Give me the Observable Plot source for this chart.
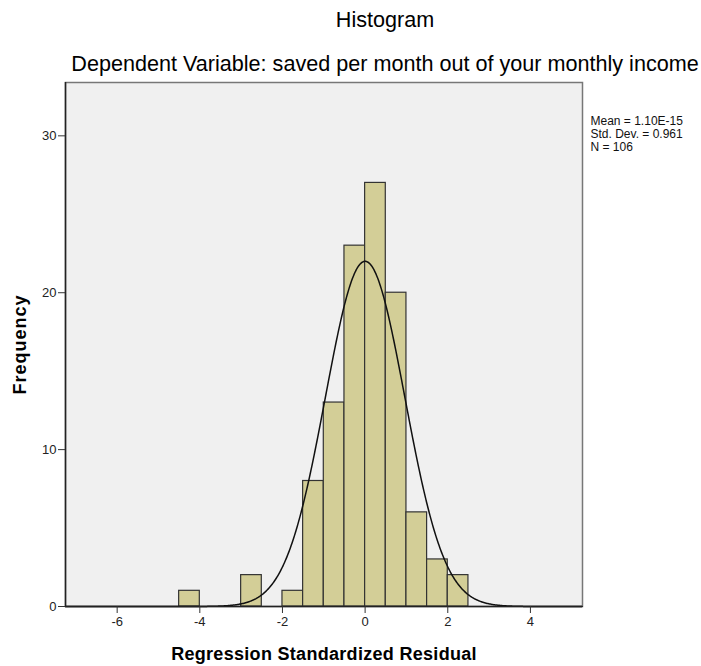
<!DOCTYPE html>
<html>
<head>
<meta charset="utf-8">
<script src="https://cdn.jsdelivr.net/npm/d3@7"></script>
<script src="https://cdn.jsdelivr.net/npm/@observablehq/plot@0.6"></script>
<style>
  html, body { margin: 0; padding: 0; background: #fff; }
  #chart { width: 701px; height: 666px; overflow: hidden; }
  svg { font-family: "Liberation Sans", Arial, sans-serif; }
</style>
</head>
<body>
<div id="chart"></div>
<script>
// Histogram bins (left edges), width 0.5, and frequencies
const binStarts = [-4.5, -3, -2, -1.5, -1, -0.5, 0, 0.5, 1, 1.5, 2];
const counts    = [1, 2, 1, 8, 13, 23, 27, 20, 6, 3, 2];
const binWidth = 0.5;

// Summary statistics shown in the legend
const statLabels = ["Mean = 1.10E-15", "Std. Dev. = 0.961", "N = 106"];
const mean = 1.10e-15;
const stdDev = 0.961;
const n = 106;

const xTicks = [-6, -4, -2, 0, 2, 4];
const yTicks = [0, 10, 20, 30];

const title = "Histogram";
const subtitle = "Dependent Variable: saved per month out of your monthly income";
const xLabel = "Regression Standardized Residual";
const yLabel = "Frequency";

const bars = binStarts.map((x, i) => ({x1: x, x2: x + binWidth, y: counts[i]}));

// Normal curve defined by the stated mean, std. dev. and N (scaled to bin width)
const curve = d3.range(-7.25, 5.2501, 0.02).map(x => ({
  x,
  y: n * binWidth * Math.exp(-0.5 * ((x - mean) / stdDev) ** 2) / (stdDev * Math.sqrt(2 * Math.PI))
}));

const chart = Plot.plot({
  width: 701,
  height: 666,
  marginLeft: 65,
  marginRight: 119,
  marginTop: 82,
  marginBottom: 60,
  style: {fontFamily: "Liberation Sans, Arial, sans-serif", fontSize: "13px", color: "#222"},
  x: {domain: [-7.25, 5.26], label: null},
  y: {domain: [0, 33.4], label: null},
  marks: [
    Plot.frame({fill: "#f0f0f0", stroke: "#777", strokeWidth: 1.5}),
    Plot.rectY(bars, {x1: "x1", x2: "x2", y: "y", fill: "#d3ce97", stroke: "#333", strokeWidth: 1.2, inset: 0}),
    Plot.line(curve, {x: "x", y: "y", stroke: "#111", strokeWidth: 1.5}),
    Plot.ruleY([0], {stroke: "#222", strokeWidth: 1.5}),
    Plot.ruleX([-7.25], {stroke: "#222", strokeWidth: 1.5}),
    Plot.axisX({ticks: xTicks, tickSize: 7, tickPadding: 3, tickFormat: d => String(d), stroke: "#333", fill: "#222", fontSize: 13, label: null}),
    Plot.axisY({ticks: yTicks, tickSize: 7, tickPadding: 2, tickFormat: d => String(d), stroke: "#333", fill: "#222", fontSize: 13, label: null}),
    Plot.text([statLabels.join("\n")], {
      frameAnchor: "top-right",
      dx: 8, dy: 33,
      textAnchor: "start", lineAnchor: "top", lineHeight: 1.08,
      fontSize: 12, fill: "#111"
    }),
    Plot.text([title], {frameAnchor: "top", dx: 61, dy: -62, fontSize: 21.6, fill: "#000", lineAnchor: "middle", textAnchor: "middle"}),
    Plot.text([subtitle], {frameAnchor: "top", dx: 61, dy: -18, fontSize: 21.6, fill: "#000", lineAnchor: "middle", textAnchor: "middle"}),
    Plot.text([xLabel], {frameAnchor: "bottom", dy: 48, fontSize: 18, fontWeight: "bold", fill: "#000", lineAnchor: "middle", textAnchor: "middle"}),
    Plot.text([yLabel], {frameAnchor: "left", dx: -45, rotate: -90, fontSize: 18, fontWeight: "bold", fill: "#000", lineAnchor: "middle", textAnchor: "middle"})
  ]
});

document.getElementById("chart").appendChild(chart);
// slightly wider letter spacing for the bold axis titles, as in the reference
d3.select(chart).selectAll("text").filter(function() { return this.textContent === xLabel; }).attr("letter-spacing", "0.3");
d3.select(chart).selectAll("text").filter(function() { return this.textContent === yLabel; }).attr("letter-spacing", "1");
</script>
</body>
</html>
